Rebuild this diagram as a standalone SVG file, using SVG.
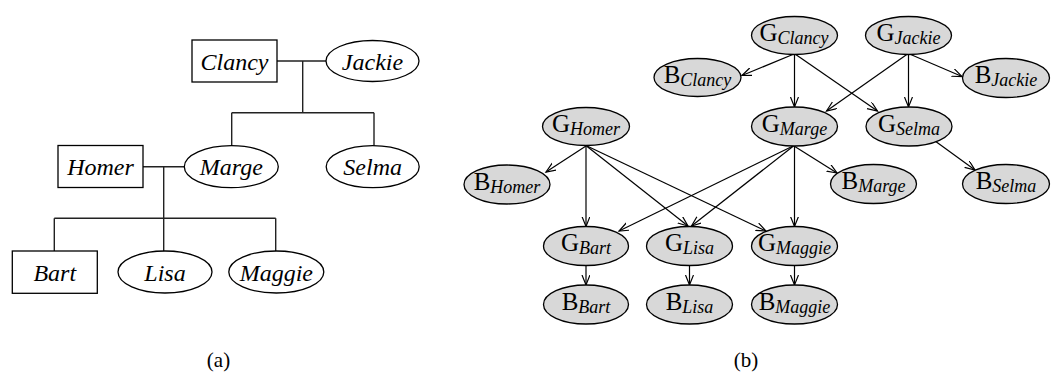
<svg xmlns="http://www.w3.org/2000/svg" width="1052" height="373" viewBox="0 0 1052 373">
<style>
.bg{fill:#fff}
.box{fill:#fff;stroke:#000;stroke-width:1.3}
.ov{fill:#fff;stroke:#000;stroke-width:1.3}
.gn{fill:#d8d8d8;stroke:#000;stroke-width:1.3}
.ln{fill:none;stroke:#222;stroke-width:1.4}
.ed{fill:none;stroke:#000;stroke-width:1.2;marker-end:url(#vee)}
.ta{font-family:"Liberation Serif","Times New Roman",serif;font-style:italic;font-size:24px;fill:#000;text-anchor:middle}
.tb{font-family:"Liberation Serif","Times New Roman",serif;font-size:25px;fill:#000;text-anchor:middle}
.sub{font-style:italic;font-size:18px}
.cap{font-family:"Liberation Serif","Times New Roman",serif;font-size:21px;fill:#000;text-anchor:middle}
</style>
<defs>
<marker id="vee" markerUnits="userSpaceOnUse" markerWidth="12" markerHeight="10" refX="10" refY="4" orient="auto" viewBox="0 0 12 10">
<path d="M0,0 L10,4 L0,8" fill="none" stroke="#000" stroke-width="1.2"/>
</marker>
</defs>
<rect class="bg" x="0" y="0" width="1052" height="373"/>

<!-- Panel (a) -->
<g id="a-connectors">
<path class="ln" d="M277,61 H326 M302.7,61 V112.7 M231.7,112.7 H374 M231.7,112.7 V145.7 M374,112.7 V145.7"/>
<path class="ln" d="M143,166.7 H184.3 M163.7,166.7 V218.3 M54.3,218.3 H275.7 M54.3,218.3 V251 M163.7,218.3 V251 M275.7,218.3 V251"/>
</g>
<g id="a-clancy"><rect class="box" x="192" y="40" width="85" height="42"/><text class="ta" x="234.5" y="69.5">Clancy</text></g>
<g id="a-jackie"><ellipse class="ov" cx="372.5" cy="61" rx="46.5" ry="20.5"/><text class="ta" x="372.5" y="69.5">Jackie</text></g>
<g id="a-homer"><rect class="box" x="58" y="145.5" width="85" height="42"/><text class="ta" x="100.5" y="175">Homer</text></g>
<g id="a-marge"><ellipse class="ov" cx="231.3" cy="166.7" rx="47" ry="21"/><text class="ta" x="231.3" y="175">Marge</text></g>
<g id="a-selma"><ellipse class="ov" cx="372.7" cy="166.7" rx="46.5" ry="21"/><text class="ta" x="372.7" y="175">Selma</text></g>
<g id="a-bart"><rect class="box" x="12.3" y="251" width="85" height="42.3"/><text class="ta" x="54.8" y="280.5">Bart</text></g>
<g id="a-lisa"><ellipse class="ov" cx="165" cy="272" rx="47" ry="21"/><text class="ta" x="165" y="280.5">Lisa</text></g>
<g id="a-maggie"><ellipse class="ov" cx="276.3" cy="272" rx="47.5" ry="21"/><text class="ta" x="276.3" y="280.5">Maggie</text></g>
<text class="cap" x="218.5" y="367">(a)</text>

<!-- Panel (b) -->
<g id="b-connectors">
<path class="ed" d="M794,54 L742,75.5"/>
<path class="ed" d="M794.5,54 L794.5,107"/>
<path class="ed" d="M795,54 L877.5,111"/>
<path class="ed" d="M907.5,54 L826.5,111"/>
<path class="ed" d="M908.5,54 L908.5,107"/>
<path class="ed" d="M909.5,54 L962,76.5"/>
<path class="ed" d="M586,146 L546,172"/>
<path class="ed" d="M586,146 L586,226.5"/>
<path class="ed" d="M586.5,146 L688,226"/>
<path class="ed" d="M587,146 L766,231"/>
<path class="ed" d="M794,146 L837,173"/>
<path class="ed" d="M794.5,146 L794.5,226.5"/>
<path class="ed" d="M793.5,146 L691.5,226"/>
<path class="ed" d="M793,146 L619,231"/>
<path class="ed" d="M933,139.5 L975,170"/>
<path class="ed" d="M586,265 L586,285"/>
<path class="ed" d="M689.5,265 L689.5,285"/>
<path class="ed" d="M794.5,265 L794.5,285"/>
</g>
<g id="g-clancy"><ellipse class="gn" cx="794.5" cy="35.5" rx="43" ry="19"/><text class="tb" x="794" y="40.5">G<tspan class="sub" dy="3">Clancy</tspan></text></g>
<g id="g-jackie"><ellipse class="gn" cx="908.5" cy="35.5" rx="43" ry="19"/><text class="tb" x="908.5" y="40.5">G<tspan class="sub" dy="3">Jackie</tspan></text></g>
<g id="b-clancy"><ellipse class="gn" cx="697.5" cy="77.5" rx="43.5" ry="19"/><text class="tb" x="697.5" y="82.5">B<tspan class="sub" dy="3">Clancy</tspan></text></g>
<g id="b-jackie"><ellipse class="gn" cx="1006" cy="78" rx="43.5" ry="19.5"/><text class="tb" x="1006" y="83">B<tspan class="sub" dy="3">Jackie</tspan></text></g>
<g id="g-homer"><ellipse class="gn" cx="586" cy="126.5" rx="43.5" ry="19"/><text class="tb" x="586" y="131.5">G<tspan class="sub" dy="3">Homer</tspan></text></g>
<g id="g-marge"><ellipse class="gn" cx="794.5" cy="126.5" rx="43" ry="19.5"/><text class="tb" x="794.5" y="131.5">G<tspan class="sub" dy="3">Marge</tspan></text></g>
<g id="g-selma"><ellipse class="gn" cx="909" cy="126.5" rx="43" ry="19.5"/><text class="tb" x="909" y="131.5">G<tspan class="sub" dy="3">Selma</tspan></text></g>
<g id="b-homer"><ellipse class="gn" cx="507" cy="184.5" rx="43" ry="19.5"/><text class="tb" x="507" y="189.5">B<tspan class="sub" dy="3">Homer</tspan></text></g>
<g id="b-marge"><ellipse class="gn" cx="873.5" cy="184" rx="43" ry="19.5"/><text class="tb" x="873.5" y="189">B<tspan class="sub" dy="3">Marge</tspan></text></g>
<g id="b-selma"><ellipse class="gn" cx="1006" cy="184" rx="43.5" ry="19.5"/><text class="tb" x="1006" y="189">B<tspan class="sub" dy="3">Selma</tspan></text></g>
<g id="g-bart"><ellipse class="gn" cx="586" cy="246" rx="42.5" ry="19.5"/><text class="tb" x="586" y="251">G<tspan class="sub" dy="3">Bart</tspan></text></g>
<g id="g-lisa"><ellipse class="gn" cx="689.5" cy="246" rx="43" ry="19.5"/><text class="tb" x="689.5" y="251">G<tspan class="sub" dy="3">Lisa</tspan></text></g>
<g id="g-maggie"><ellipse class="gn" cx="794.5" cy="246" rx="43" ry="19.5"/><text class="tb" x="794.5" y="251">G<tspan class="sub" dy="3">Maggie</tspan></text></g>
<g id="b-bart"><ellipse class="gn" cx="586" cy="304.5" rx="42.5" ry="19.5"/><text class="tb" x="586" y="309.5">B<tspan class="sub" dy="3">Bart</tspan></text></g>
<g id="b-lisa"><ellipse class="gn" cx="689.5" cy="304.5" rx="43" ry="19.5"/><text class="tb" x="689.5" y="309.5">B<tspan class="sub" dy="3">Lisa</tspan></text></g>
<g id="b-maggie"><ellipse class="gn" cx="794.5" cy="304.5" rx="43" ry="19.5"/><text class="tb" x="794.5" y="309.5">B<tspan class="sub" dy="3">Maggie</tspan></text></g>
<text class="cap" x="746" y="367">(b)</text>
</svg>
